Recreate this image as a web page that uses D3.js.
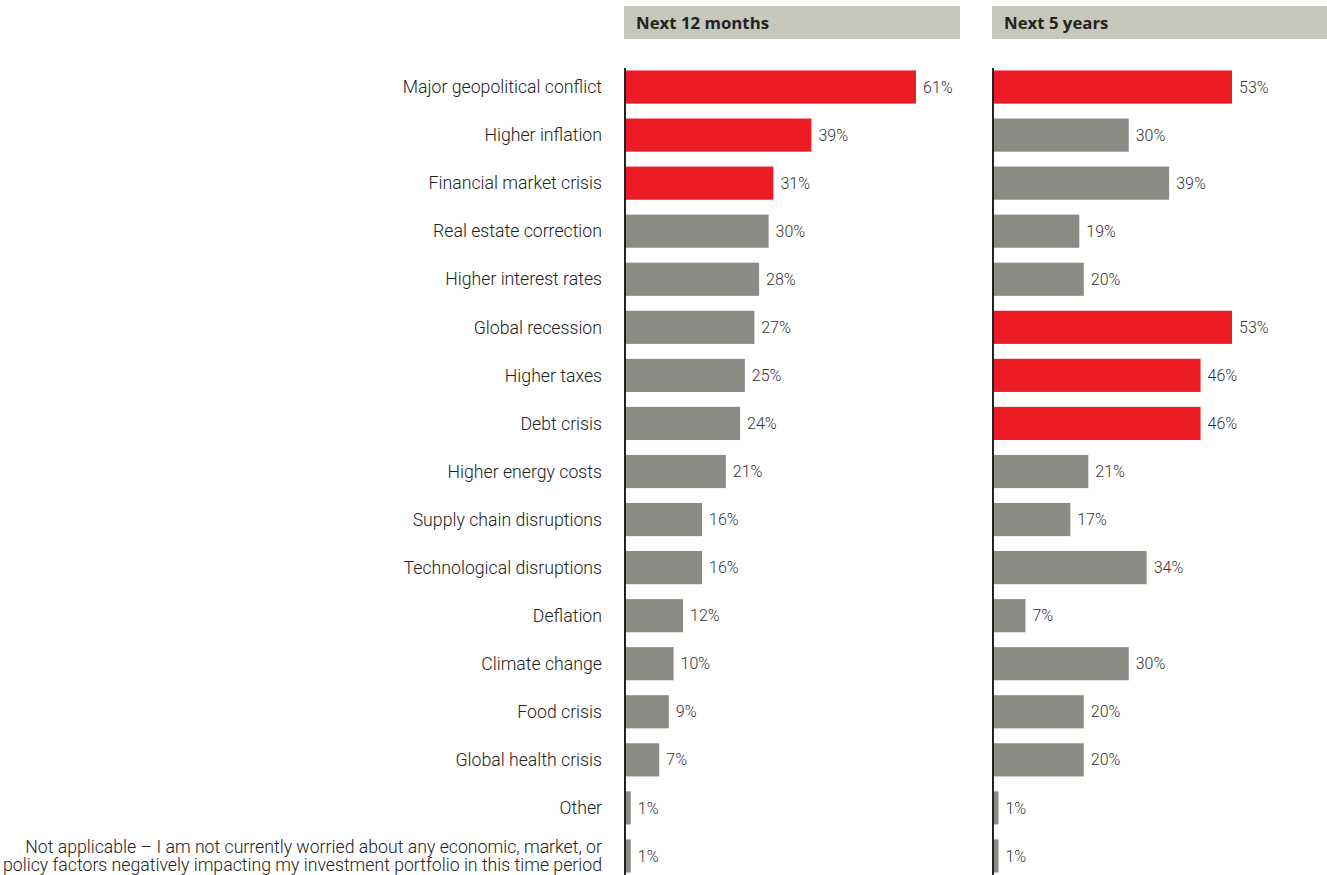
<!DOCTYPE html>
<html><head><meta charset="utf-8">
<script src="https://cdn.jsdelivr.net/npm/d3@7"></script>
<style>body{margin:0;background:#fff}svg{display:block}</style>
</head><body>
<script>
const categories = ["Major geopolitical conflict","Higher inflation","Financial market crisis","Real estate correction","Higher interest rates","Global recession","Higher taxes","Debt crisis","Higher energy costs","Supply chain disruptions","Technological disruptions","Deflation","Climate change","Food crisis","Global health crisis","Other","Not applicable – I am not currently worried about any economic, market, or|policy factors negatively impacting my investment portfolio in this time period"];
const next12Months = [61,39,31,30,28,27,25,24,21,16,16,12,10,9,7,1,1];
const next5Years = [53,30,39,19,20,53,46,46,21,17,34,7,30,20,20,1,1];
const highlight12 = ["Major geopolitical conflict","Higher inflation","Financial market crisis"];
const highlight5 = ["Major geopolitical conflict","Global recession","Higher taxes","Debt crisis"];
const panelTitles = ["Next 12 months","Next 5 years"];

const W=1327,H=875;
const svg=d3.select("body").append("svg").attr("width",W).attr("height",H);
const font="'Roboto','Open Sans',sans-serif";
const RED="#ED1C24", GREY="#8C8A85";

const y=d3.scaleBand().domain(categories).range([63,880]).paddingInner(0.31).paddingOuter(0.155);

const panels=[
 {title:panelTitles[0],values:next12Months,hl:highlight12,x0:626,hx:624,hw:336,x:d3.scaleLinear().domain([0,61]).range([626,916])},
 {title:panelTitles[1],values:next5Years,hl:highlight5,x0:994,hx:992,hw:335,x:d3.scaleLinear().domain([0,53]).range([994,1232])}
];

// category labels
const lab=svg.append("g").attr("font-family",font).attr("font-weight",300).attr("font-size",17.7).attr("fill","#222").attr("text-anchor","end");
categories.forEach(c=>{
  const parts=c.split("|");
  const cy=y(c)+y.bandwidth()/2;
  if(parts.length===1){
    lab.append("text").attr("x",602).attr("y",cy).attr("dy","0.35em").text(c);
  } else {
    parts.forEach((p,i)=>lab.append("text").attr("x",602).attr("y",cy+(i-0.5)*18).attr("dy","0.35em").text(p));
  }
});

panels.forEach(p=>{
  const g=svg.append("g");
  g.append("rect").attr("x",p.hx).attr("y",6).attr("width",p.hw).attr("height",33).attr("fill","#C8C7BB");
  g.append("text").attr("x",p.hx+12).attr("y",23).attr("dy","0.35em").attr("font-family","'Open Sans','DejaVu Sans',sans-serif")
   .attr("font-weight","bold").attr("font-size",16.8).attr("fill","#222").text(p.title);
  g.selectAll("rect.bar").data(categories).join("rect").attr("class","bar")
   .attr("x",p.x(0)).attr("y",d=>y(d)).attr("height",y.bandwidth())
   .attr("width",(d,i)=>p.x(p.values[i])-p.x(0))
   .attr("fill",d=>p.hl.includes(d)?RED:GREY);
  g.selectAll("text.val").data(categories).join("text").attr("class","val")
   .attr("x",(d,i)=>p.x(p.values[i])+7).attr("y",d=>y(d)+y.bandwidth()/2).attr("dy","0.35em")
   .attr("font-family",font).attr("font-weight",300).attr("font-size",16).attr("fill","#333")
   .text((d,i)=>p.values[i]+"%");
  const axis=d3.axisLeft(y).tickSize(0).tickFormat("");
  const ag=g.append("g").attr("transform",`translate(${p.x0-1},0)`).call(axis);
  ag.select(".domain").attr("stroke","#222").attr("stroke-width",2).attr("d",`M0,68V875`);
});
</script>
</body></html>
